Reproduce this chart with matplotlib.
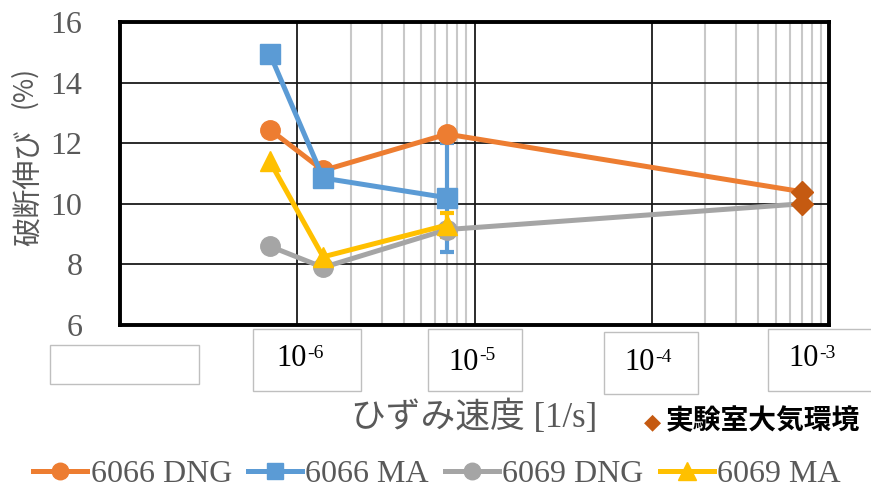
import matplotlib
matplotlib.use("Agg")
import matplotlib.pyplot as plt
from matplotlib.patches import Rectangle
from matplotlib.ticker import FixedLocator, NullFormatter

# strain rates [1/s] and elongation at break [%]
rates = [7e-7, 1.4e-6, 7e-6]
lab_rate = 7e-4
dng_6066 = [12.45, 11.1, 12.3]
ma_6066 = [14.95, 10.85, 10.2]
dng_6069 = [8.6, 7.9, 9.15]
ma_6069 = [11.4, 8.25, 9.3]
lab_6066 = 10.4
lab_6069 = 10.0
err_ma_6066 = 1.8
err_ma_6069 = 0.4

series_names = ["6066 DNG", "6066 MA", "6069 DNG", "6069 MA"]
tick_exponents = ["-6", "-5", "-4", "-3"]
yticks = [6, 8, 10, 12, 14, 16]

orange = "#ED7D31"
blue = "#5B9BD5"
gray = "#A5A5A5"
yellow = "#FFC000"
dark_orange = "#C55A11"
text_gray = "#595959"

serif_jp = ["Liberation Serif", "Noto Sans CJK JP"]

W, H = 871, 493
fig = plt.figure(figsize=(W / 100, H / 100), dpi=100)
ax = fig.add_axes([120 / W, 1 - 325 / H, (829 - 120) / W, (325 - 22) / H])

ax.set_xscale("log")
ax.set_xlim(1e-7, 1e-3)
ax.set_ylim(6, 16)

# gridlines: major decades black, minor lines only in two decades
ax.xaxis.set_major_locator(FixedLocator([1e-6, 1e-5, 1e-4]))
minor = [k * 1e-6 for k in range(2, 10)] + [k * 1e-4 for k in range(2, 10)]
ax.xaxis.set_minor_locator(FixedLocator(minor))
ax.xaxis.set_major_formatter(NullFormatter())
ax.xaxis.set_minor_formatter(NullFormatter())
ax.set_yticks(yticks)
ax.grid(True, which="major", axis="both", color="#1a1a1a", lw=1.3, zorder=0)
ax.grid(True, which="minor", axis="x", color="#C8C8C8", lw=1.5, zorder=0)
ax.set_axisbelow(True)
ax.tick_params(which="both", length=0)
ax.tick_params(axis="y", pad=27, labelsize=23, labelcolor=text_gray)
for lab in ax.get_yticklabels():
    lab.set_family("Liberation Serif")
for sp in ax.spines.values():
    sp.set_linewidth(2.8)
    sp.set_color("black")

lw = 3.6
ms = 14
# error bars below the lines
ax.errorbar([rates[2]], [ma_6066[2]], yerr=err_ma_6066, fmt="none",
            ecolor=blue, elinewidth=3, capsize=5, capthick=3, zorder=1.5)
ax.errorbar([rates[2]], [ma_6069[2]], yerr=err_ma_6069, fmt="none",
            ecolor=yellow, elinewidth=3, capsize=5, capthick=3, zorder=1.6)

h1, = ax.plot(rates + [lab_rate], dng_6066 + [lab_6066], color=orange, lw=lw,
              marker="o", ms=ms, markevery=[0, 1, 2], zorder=3,
              label=series_names[0])
h2, = ax.plot(rates, ma_6066, color=blue, lw=lw, marker="s", ms=ms, zorder=4,
              label=series_names[1])
h3, = ax.plot(rates + [lab_rate], dng_6069 + [lab_6069], color=gray, lw=lw,
              marker="o", ms=ms, markevery=[0, 1, 2], zorder=3,
              label=series_names[2])
h4, = ax.plot(rates, ma_6069, color=yellow, lw=lw, marker="^", ms=ms + 1,
              zorder=5, label=series_names[3])
ax.plot([lab_rate, lab_rate], [lab_6066, lab_6069], ls="none", marker="D",
        ms=11, color=dark_orange, zorder=6)

# text boxes used as x tick labels
boxes = [(253, 329, 361, 391), (428, 329, 522, 391),
         (604, 332, 698, 394), (768, 329, 880, 391)]
label_pos = [(300, 359), (472, 362), (648, 363), (812, 359)]
fig.patches.append(Rectangle((50 / W, 1 - 384 / H), 149 / W, 39 / H,
                             transform=fig.transFigure, fill=False,
                             ec="#BFBFBF", lw=1))
for (x0, y0, x1, y1), (cx, cy), ex in zip(boxes, label_pos, tick_exponents):
    fig.patches.append(Rectangle((x0 / W, 1 - y1 / H), (x1 - x0) / W,
                                 (y1 - y0) / H, transform=fig.transFigure,
                                 fill=False, ec="#BFBFBF", lw=1))
    fig.text((cx + 7) / W, 1 - cy / H, "10", ha="right", va="center",
             fontsize=22, family="Liberation Serif")
    fig.text((cx + 7) / W, 1 - (cy - 6) / H, ex, ha="left", va="center",
             fontsize=14, family="Liberation Serif")

# axis titles
fig.text(29 / W, 1 - 246 / H, "破断伸び", rotation=90, ha="center",
         va="bottom", fontsize=21, color=text_gray, family="Noto Sans CJK JP")
fig.text(24 / W, 1 - 108 / H, "(%)", rotation=90, ha="center",
         va="bottom", fontsize=19, color=text_gray, family="Noto Sans CJK JP")
fig.text(474 / W, 1 - 418 / H, "ひずみ速度 [1/s]", ha="center", va="center",
         fontsize=25, color=text_gray, family=serif_jp)

# note for the lab-air points
fig.text(652 / W, 1 - 422 / H, "◆", ha="center", va="center", fontsize=16,
         color=dark_orange, family="DejaVu Sans")
fig.text(666 / W, 1 - 421 / H, "実験室大気環境", ha="left", va="center",
         fontsize=20, color="black", family="Noto Sans CJK JP",
         weight="bold")

leg = fig.legend(handles=[h1, h2, h3, h4], loc="center",
                 bbox_to_anchor=(437 / W, 1 - 474 / H), ncol=4,
                 frameon=False, handlelength=1.7, handletextpad=0.1,
                 columnspacing=0.5, markerscale=0.85,
                 prop={"family": "Liberation Serif", "size": 23})
for t in leg.get_texts():
    t.set_color(text_gray)

fig.savefig("out.png", dpi=100)
